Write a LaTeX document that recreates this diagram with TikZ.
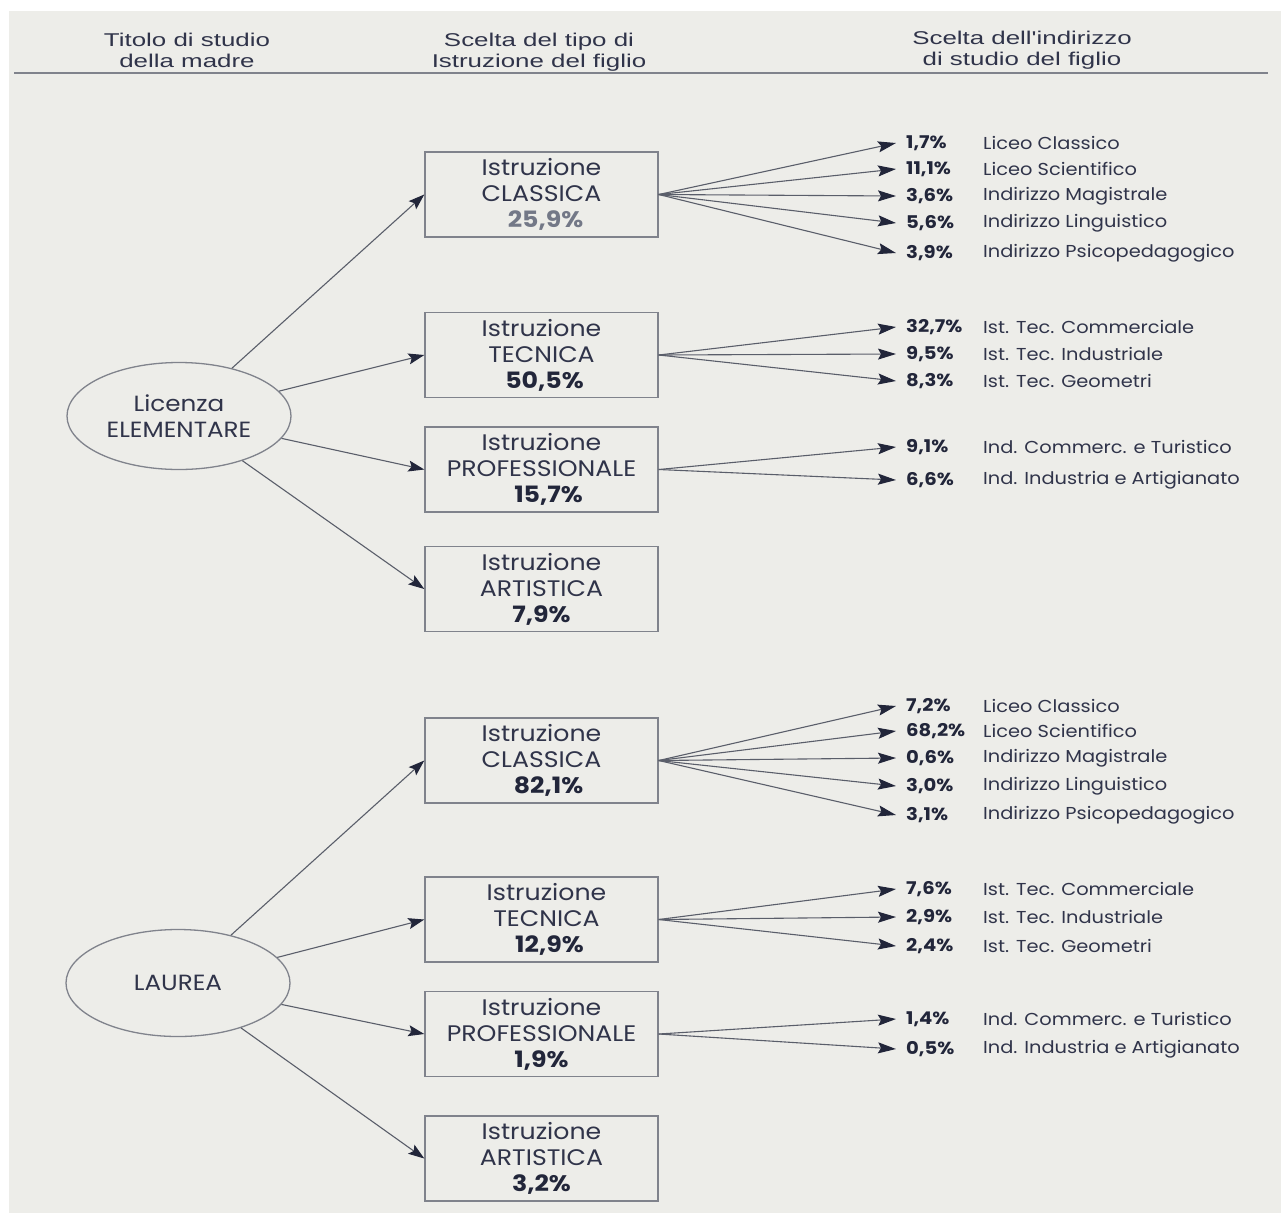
\documentclass[tikz,border=0pt]{standalone}
\usepackage{fontspec}
\setmainfont{Poppins}[FakeStretch=1.12]
\newfontfamily\hdrfont{Liberation Sans}[FakeStretch=1.4]
\usetikzlibrary{arrows.meta,shapes.geometric}
\definecolor{bg}{HTML}{EDEDE9}
\definecolor{ink}{HTML}{30344A}
\definecolor{dark}{HTML}{22263A}
\definecolor{lineg}{HTML}{5A5E6A}
\definecolor{boxg}{HTML}{80838C}
\definecolor{pctg}{HTML}{737887}
\newcommand\fanrow[5]{%
  \node[pct] (#2p) at (906,#3) {#4};
  \node[lab] (#2l) at (983,#3) {#5};
  \draw[fan] (#1.east) -- ([xshift=-10pt]#2p.west);
}
\begin{document}
\begin{tikzpicture}[x=1pt,y=-1pt,
  box/.style={draw=boxg, line width=1.4pt, minimum width=233pt, minimum height=85pt,
    inner sep=0pt, align=center, font=\fontsize{22.5}{26}\selectfont, text=ink},
  ell/.style={ellipse, draw=boxg, line width=1.3pt, minimum width=224pt, minimum height=107pt,
    inner sep=0pt, align=center, font=\fontsize{22}{26}\selectfont, text=ink},
  conn/.style={draw=lineg, line width=1.1pt, -{Stealth[length=16pt,width=11pt,inset=3pt,color=dark]}},
  fan/.style={draw=lineg, line width=1.1pt, -{Stealth[length=18pt,width=11pt,inset=3pt,color=dark]}},
  pct/.style={anchor=west, inner sep=0pt, font=\bfseries\fontsize{17.5}{20}\selectfont, text=dark},
  lab/.style={anchor=west, inner sep=0pt, font=\fontsize{17.3}{20}\selectfont, text=ink},
  hdr/.style={align=center, inner sep=0pt, font=\hdrfont\fontsize{18.5}{21}\selectfont, text=ink}
]
\fill[white] (0,0) rectangle (1281,1213);
\fill[bg] (9,11) rectangle (1281,1213);
\useasboundingbox (0,0) rectangle (1281,1213);

% header
\node[hdr] (h1) at (187,50) {Titolo di studio\\della madre};
\node[hdr] (h2) at (539,52) {Scelta del tipo di\\Istruzione del figlio};
\node[hdr] (h3) at (1022,50) {Scelta dell'indirizzo\\di studio del figlio};
\coordinate (hl) at (14,73);
\coordinate (hr) at (1268,73);
\draw[boxg, line width=1.3pt] (hl) -- (hr);

% mothers
\node[ell] (E1) at (179,416) {Licenza\\ELEMENTARE};
\node[ell] (E2) at (178,983) {LAUREA};

% boxes group 1
\node[box] (C1) at (541.5,194.5) {Istruzione\\CLASSICA\\{\bfseries\color{pctg}\hspace{8pt}25,9\%}};
\node[box] (T1) at (541.5,355) {Istruzione\\TECNICA\\\textbf{\color{dark}\hspace{6pt}50,5\%}};
\node[box] (P1) at (541.5,469.5) {Istruzione\\PROFESSIONALE\\\textbf{\color{dark}\hspace{14pt}15,7\%}};
\node[box] (A1) at (541.5,589) {Istruzione\\ARTISTICA\\\textbf{\color{dark}7,9\%}};

% boxes group 2
\node[box] (C2) at (541.5,760.5) {Istruzione\\CLASSICA\\\textbf{\color{dark}\hspace{14pt}82,1\%}};
\node[box] (T2) at (541.5,919.5) {\hspace{10pt}Istruzione\\\hspace{10pt}TECNICA\\\textbf{\color{dark}\hspace{16pt}12,9\%}};
\node[box] (P2) at (541.5,1034) {Istruzione\\PROFESSIONALE\\\textbf{\color{dark}1,9\%}};
\node[box] (A2) at (541.5,1158.5) {Istruzione\\ARTISTICA\\\textbf{\color{dark}3,2\%}};

% mother -> type
\foreach \b in {C1,T1,P1,A1} \draw[conn] (E1) -- (\b.west);
\foreach \b in {C2,T2,P2,A2} \draw[conn] (E2) -- (\b.west);

% fans group 1
\fanrow{C1}{ca}{143}{1,7\%}{Liceo Classico}
\fanrow{C1}{cb}{169}{11,1\%}{Liceo Scientifico}
\fanrow{C1}{cc}{196}{3,6\%}{Indirizzo Magistrale}
\fanrow{C1}{cd}{223}{5,6\%}{Indirizzo Linguistico}
\fanrow{C1}{ce}{253}{3,9\%}{Indirizzo Psicopedagogico}
\fanrow{T1}{ta}{327}{32,7\%}{Ist. Tec. Commerciale}
\fanrow{T1}{tb}{354}{9,5\%}{Ist. Tec. Industriale}
\fanrow{T1}{tc}{381}{8,3\%}{Ist. Tec. Geometri}
\fanrow{P1}{pa}{447}{9,1\%}{Ind. Commerc. e Turistico}
\fanrow{P1}{pb}{480}{6,6\%}{Ind. Industria e Artigianato}

% fans group 2
\fanrow{C2}{da}{706}{7,2\%}{Liceo Classico}
\fanrow{C2}{db}{731}{68,2\%}{Liceo Scientifico}
\fanrow{C2}{dc}{758}{0,6\%}{Indirizzo Magistrale}
\fanrow{C2}{dd}{786}{3,0\%}{Indirizzo Linguistico}
\fanrow{C2}{de}{815}{3,1\%}{Indirizzo Psicopedagogico}
\fanrow{T2}{ua}{889}{7,6\%}{Ist. Tec. Commerciale}
\fanrow{T2}{ub}{917}{2,9\%}{Ist. Tec. Industriale}
\fanrow{T2}{uc}{946}{2,4\%}{Ist. Tec. Geometri}
\fanrow{P2}{qa}{1019}{1,4\%}{Ind. Commerc. e Turistico}
\fanrow{P2}{qb}{1049}{0,5\%}{Ind. Industria e Artigianato}
\end{tikzpicture}
\end{document}
